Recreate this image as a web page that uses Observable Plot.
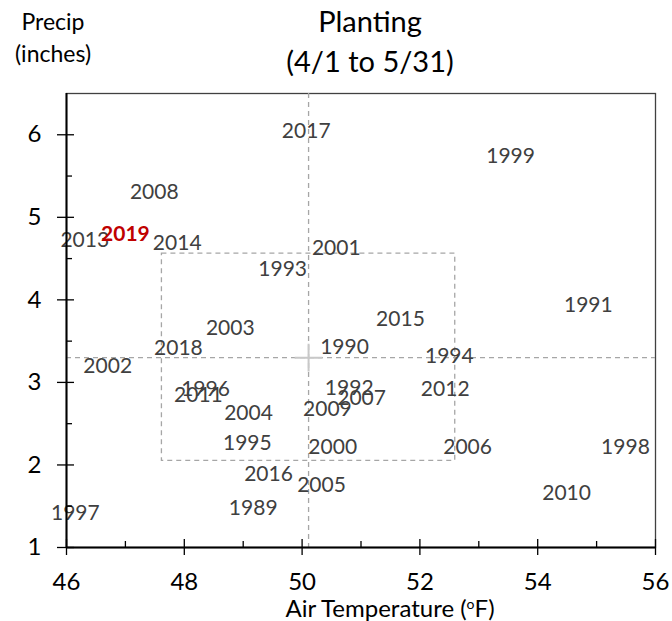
<!DOCTYPE html>
<html>
<head>
<meta charset="utf-8">
<script src="https://cdn.jsdelivr.net/npm/d3@7"></script>
<script src="https://cdn.jsdelivr.net/npm/@observablehq/plot@0.6"></script>
<style>
  html, body { margin: 0; padding: 0; background: #fff; }
  #wrap { position: relative; width: 672px; height: 621px; font-family: Lato, "Open Sans", sans-serif; color: #000; }
  #wrap svg { position: absolute; left: 0; top: 0; font-family: Lato, sans-serif; }
  .title { position: absolute; left: 250px; width: 240px; top: 1px; text-align: center; font-size: 29px; line-height: 40px; }
  .ylab { position: absolute; left: 0; width: 106px; top: 5px; text-align: center; font-size: 23px; line-height: 32px; }
  .xlab { position: absolute; left: 240px; width: 300px; top: 595px; text-align: center; font-size: 24px; line-height: 26px; }
  .xlab sup { font-size: 14px; vertical-align: 8px; line-height: 0; }
</style>
</head>
<body>
<div id="wrap">
  <div id="chart"></div>
  <div class="title">Planting<br>(4/1 to 5/31)</div>
  <div class="ylab">Precip<br>(inches)</div>
  <div class="xlab">Air Temperature (<sup>o</sup>F)</div>
</div>
<script>
const years = [1989,1990,1991,1992,1993,1994,1995,1996,1997,1998,1999,2000,2001,2002,2003,2004,2005,2006,2007,2008,2009,2010,2011,2012,2013,2014,2015,2016,2017,2018,2019];
const airTemp = [49.17,50.72,54.86,50.80,49.67,52.50,49.07,48.36,46.15,55.49,53.54,50.52,50.58,46.70,48.78,49.09,50.33,52.81,51.01,47.49,50.43,54.49,48.24,52.43,46.31,47.88,51.67,49.43,50.07,47.90,47.00];
const precip = [1.48,3.42,3.93,2.93,4.37,3.32,2.26,2.92,1.41,2.21,5.74,2.21,4.63,3.20,3.66,2.63,1.75,2.21,2.81,5.30,2.68,1.66,2.84,2.92,4.72,4.69,3.77,1.89,6.04,3.41,4.79];
const highlightYear = 2019;
const meanTemp = 50.11;
const meanPrecip = 3.30;
const boxTemp = [47.62, 52.60];
const boxPrecip = [2.05, 4.56];
const xDomain = [46, 56];
const yDomain = [1, 6.5];
const xMajor = [46, 48, 50, 52, 54, 56];
const xMinor = [47, 49, 51, 53, 55];
const yMajor = [1, 2, 3, 4, 5, 6];
const yMinor = [1.5, 2.5, 3.5, 4.5, 5.5];

const rows = years.map((yr, i) => ({year: yr, temp: airTemp[i], precip: precip[i]}));
const normal = rows.filter(d => d.year !== highlightYear);
const hi = rows.filter(d => d.year === highlightYear);

const dash = {stroke: "#a6a6a6", strokeWidth: 1.3, strokeDasharray: "5,4"};

const chart = Plot.plot({
  width: 672,
  height: 621,
  marginLeft: 66,
  marginRight: 17,
  marginTop: 93,
  marginBottom: 74,
  x: {domain: xDomain},
  y: {domain: yDomain},
  style: {fontFamily: "Lato, sans-serif", background: "white"},
  marks: [
    Plot.frame({stroke: "#404040", strokeWidth: 1.3}),
    Plot.ruleX([meanTemp], dash),
    Plot.ruleY([meanPrecip], dash),
    Plot.rect([{x1: boxTemp[0], x2: boxTemp[1], y1: boxPrecip[0], y2: boxPrecip[1]}], {x1: "x1", x2: "x2", y1: "y1", y2: "y2", fill: "none", ...dash}),
    Plot.dot([{x: meanTemp, y: meanPrecip}], {x: "x", y: "y", symbol: "plus", r: 9, stroke: "#c8c8c8", strokeWidth: 2}),
    Plot.text(normal, {x: "temp", y: "precip", text: d => String(d.year), fill: "#404040", fontSize: 21}),
    Plot.text(hi, {x: "temp", y: "precip", text: d => String(d.year), fill: "#c00000", fontSize: 21, fontWeight: "bold"}),
    Plot.ruleX([xDomain[0]], {stroke: "#000", strokeWidth: 2}),
    Plot.ruleY([yDomain[0]], {stroke: "#000", strokeWidth: 2}),
    Plot.axisX({ticks: xMajor, tickSize: 8, tickPadding: 17, fontSize: 24, label: null, tickFormat: d => String(d), stroke: "#000", strokeWidth: 1.3, color: "#000"}),
    Plot.axisX({ticks: xMajor, tickSize: -8, tickFormat: () => "", label: null, stroke: "#000", strokeWidth: 1.3}),
    Plot.axisX({ticks: xMinor, tickSize: -6, tickFormat: () => "", label: null, stroke: "#000", strokeWidth: 1.3}),
    Plot.axisY({ticks: yMajor, tickSize: 9, tickPadding: 16, fontSize: 24, label: null, tickFormat: d => String(d), stroke: "#000", strokeWidth: 1.3, color: "#000"}),
    Plot.axisY({ticks: yMajor, tickSize: -8, tickFormat: () => "", label: null, stroke: "#000", strokeWidth: 1.3}),
    Plot.axisY({ticks: yMinor, tickSize: -6, tickFormat: () => "", label: null, stroke: "#000", strokeWidth: 1.3})
  ]
});
document.getElementById("chart").appendChild(chart);
</script>
</body>
</html>
